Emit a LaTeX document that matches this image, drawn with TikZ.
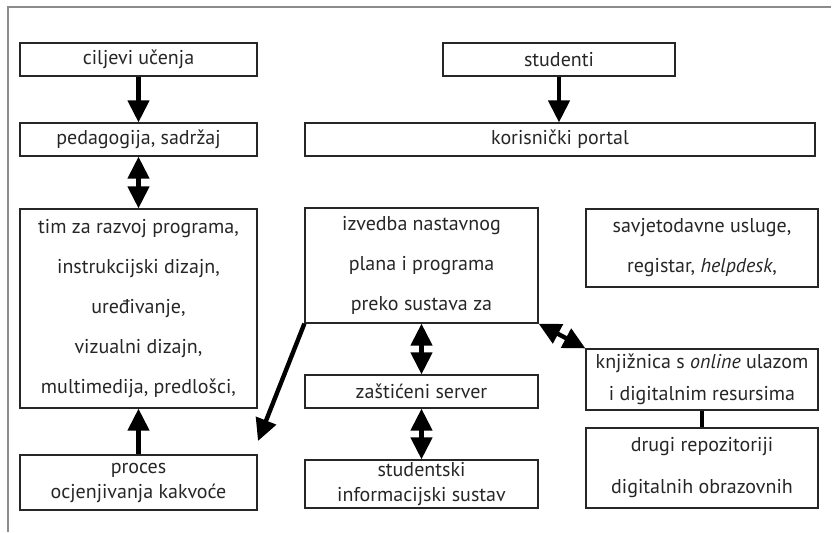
\documentclass[tikz,border=0pt]{standalone}
\usepackage{fontspec}
\setmainfont{PT Sans}
\usetikzlibrary{arrows.meta}

\begin{document}
\begin{tikzpicture}[x=0.5pt,y=-0.5pt,
	blok/.style={draw=black!85,text=black!85,line width=0.6pt,align=center,inner sep=0pt,font=\fontsize{10}{20}\selectfont},
	tijesno/.style={font=\fontsize{10}{12.5}\selectfont},
	srednje/.style={font=\fontsize{10}{16}\selectfont},
	strelica/.style={line width=2.2pt,-{Triangle[length=11pt,width=10.5pt]}},
	dvostruka/.style={line width=2.2pt,{Triangle[length=11pt,width=10.5pt]}-{Triangle[length=11pt,width=10.5pt]}}]
	\useasboundingbox (0,0) rectangle (836,532);
	\draw[black!45,line width=0.6pt] (831,7) -- (8,7) -- (8,532);

	% lijevi stupac
	\node[blok,minimum width=118.5pt,minimum height=16.5pt] (ciljevi) at (138.5,59.5) {ciljevi učenja};
	\node[blok,minimum width=118.5pt,minimum height=16.5pt] (pedagogija) at (138.5,139.5) {pedagogija, sadržaj};
	\node[blok,minimum width=118.5pt,minimum height=99.5pt] (tim) at (138.5,308.5) {tim za razvoj programa,\\
		instrukcijski dizajn,\\
		uređivanje,\\
		vizualni dizajn,\\
		multimedija, predlošci,};
	\node[blok,tijesno,minimum width=118.5pt,minimum height=27.5pt] (proces) at (138.5,482.5) {proces\\ocjenjivanja kakvoće};

	% srednji stupac
	\node[blok,minimum width=116pt,minimum height=16.5pt] (studenti) at (559,59.5) {studenti};
	\node[blok,minimum width=255pt,minimum height=16.5pt] (portal) at (560,139.5) {korisnički portal};
	\node[blok,minimum width=116.5pt,minimum height=57.5pt] (izvedba) at (421.5,265.5) {izvedba nastavnog\\
		plana i programa\\
		preko sustava za};
	\node[blok,minimum width=116.5pt,minimum height=16.5pt] (server) at (421.5,391.5) {zaštićeni server};
	\node[blok,tijesno,minimum width=116.5pt,minimum height=24pt] (sustav) at (421.5,484) {studentski\\informacijski sustav};

	% desni stupac
	\node[blok,minimum width=116pt,minimum height=39pt] (savjet) at (702,248) {savjetodavne usluge,\\
		registar, \textit{helpdesk},};
	\node[blok,srednje,minimum width=116pt,minimum height=30.5pt] (knjiznica) at (702,379.5) {knjižnica s \textit{online} ulazom\\
		i digitalnim resursima};
	\node[blok,font=\fontsize{10}{21}\selectfont,minimum width=116pt,minimum height=40pt] (drugi) at (702,468) {drugi repozitoriji\\
		digitalnih obrazovnih};

	% strelice
	\coordinate (kraj) at (258,441);
	\draw[strelica] (ciljevi) -- (pedagogija);
	\draw[dvostruka] (pedagogija) -- (tim);
	\draw[strelica] (proces) -- (tim);
	\draw[strelica] (studenti.south) -- (studenti.south |- portal.north);
	\draw[dvostruka] (izvedba) -- (server);
	\draw[dvostruka] (server) -- (sustav);
	\draw[strelica] (izvedba.south west) -- (kraj);
	\draw[dvostruka] (izvedba.south east) -- (knjiznica.north west);
	\draw[line width=2.2pt] (knjiznica.south) -- (drugi.north);
\end{tikzpicture}
\end{document}
